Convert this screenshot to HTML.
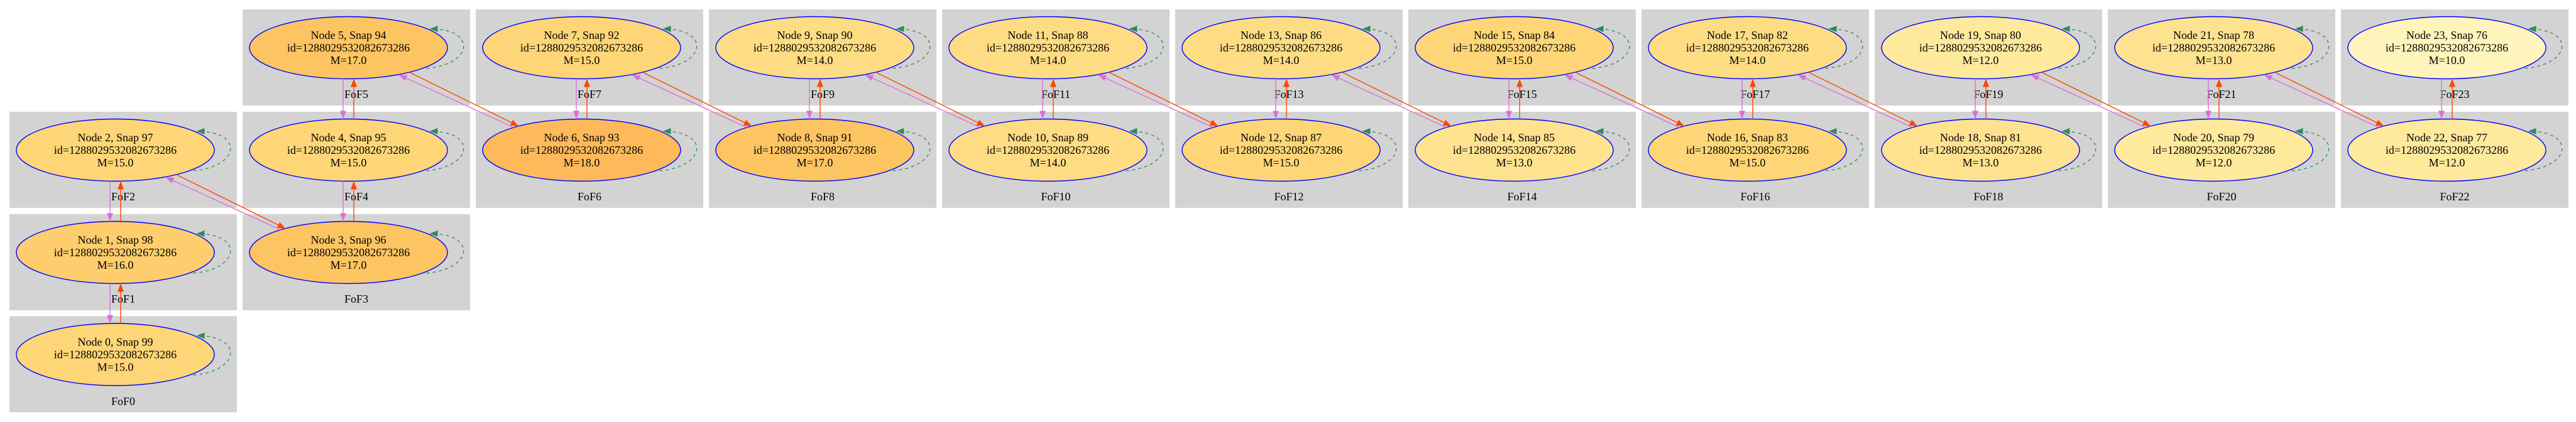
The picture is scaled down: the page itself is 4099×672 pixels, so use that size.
<!DOCTYPE html>
<html><head><meta charset="utf-8"><style>
html,body{margin:0;padding:0;background:#fff;}
svg{display:block;}
text{font-family:"Liberation Serif",serif;font-size:18px;fill:#000;text-anchor:middle;}
.c{fill:#d3d3d3;}
.n ellipse{stroke:#0000ff;stroke-width:1.4;}
.lp{fill:none;stroke:#2e8b57;stroke-width:1.3;stroke-dasharray:5,5;marker-end:url(#ag);}
.p{stroke:#da70d6;stroke-width:1.4;fill:none;marker-end:url(#ap);}
.o{stroke:#ff4500;stroke-width:1.4;fill:none;marker-end:url(#ao);}
</style></head><body>
<svg width="4099" height="672" viewBox="0 0 4099 672" xmlns="http://www.w3.org/2000/svg">
<defs>
<marker id="ag" viewBox="0 0 13 10" refX="12" refY="5" markerWidth="13" markerHeight="10" markerUnits="userSpaceOnUse" orient="auto"><path d="M0,0L13,5L0,10z" fill="#2e8b57"/></marker>
<marker id="ap" viewBox="0 0 13 10" refX="13" refY="5" markerWidth="13" markerHeight="10" markerUnits="userSpaceOnUse" orient="auto"><path d="M0,0L13,5L0,10z" fill="#da70d6"/></marker>
<marker id="ao" viewBox="0 0 13 10" refX="13" refY="5" markerWidth="13" markerHeight="10" markerUnits="userSpaceOnUse" orient="auto"><path d="M0,0L13,5L0,10z" fill="#ff4500"/></marker>
</defs>

<!-- clusters -->
<g>
<rect class="c" x="15" y="178" width="362" height="153"/><text x="196" y="319">FoF2</text>
<rect class="c" x="15" y="341" width="362" height="153"/><text x="196" y="482">FoF1</text>
<rect class="c" x="15" y="503.5" width="362" height="153"/><text x="196" y="645">FoF0</text>
<rect class="c" x="386" y="15" width="362" height="153"/><text x="567" y="156">FoF5</text>
<rect class="c" x="386" y="178" width="362" height="153"/><text x="567" y="319">FoF4</text>
<rect class="c" x="386" y="341" width="362" height="153"/><text x="567" y="482">FoF3</text>
<rect class="c" x="757" y="15" width="362" height="153"/><text x="938" y="156">FoF7</text>
<rect class="c" x="757" y="178" width="362" height="153"/><text x="938" y="319">FoF6</text>
<rect class="c" x="1128" y="15" width="362" height="153"/><text x="1309" y="156">FoF9</text>
<rect class="c" x="1128" y="178" width="362" height="153"/><text x="1309" y="319">FoF8</text>
<rect class="c" x="1499" y="15" width="362" height="153"/><text x="1680" y="156">FoF11</text>
<rect class="c" x="1499" y="178" width="362" height="153"/><text x="1680" y="319">FoF10</text>
<rect class="c" x="1870" y="15" width="362" height="153"/><text x="2051" y="156">FoF13</text>
<rect class="c" x="1870" y="178" width="362" height="153"/><text x="2051" y="319">FoF12</text>
<rect class="c" x="2241" y="15" width="362" height="153"/><text x="2422" y="156">FoF15</text>
<rect class="c" x="2241" y="178" width="362" height="153"/><text x="2422" y="319">FoF14</text>
<rect class="c" x="2612" y="15" width="362" height="153"/><text x="2793" y="156">FoF17</text>
<rect class="c" x="2612" y="178" width="362" height="153"/><text x="2793" y="319">FoF16</text>
<rect class="c" x="2983" y="15" width="362" height="153"/><text x="3164" y="156">FoF19</text>
<rect class="c" x="2983" y="178" width="362" height="153"/><text x="3164" y="319">FoF18</text>
<rect class="c" x="3354" y="15" width="362" height="153"/><text x="3535" y="156">FoF21</text>
<rect class="c" x="3354" y="178" width="362" height="153"/><text x="3535" y="319">FoF20</text>
<rect class="c" x="3725" y="15" width="362" height="153"/><text x="3906" y="156">FoF23</text>
<rect class="c" x="3725" y="178" width="362" height="153"/><text x="3906" y="319">FoF22</text>
</g>

<!-- nodes -->
<g class="n" transform="translate(183.5,239)"><ellipse rx="157.5" ry="49.5" fill="#fed677"/><path class="lp" d="M124,33 C200,26 204,-30 130,-30"/><text y="-14">Node 2, Snap 97</text><text y="6">id=1288029532082673286</text><text y="26">M=15.0</text></g>
<g class="n" transform="translate(183.5,402)"><ellipse rx="157.5" ry="49.5" fill="#fdcd6e"/><path class="lp" d="M124,33 C200,26 204,-30 130,-30"/><text y="-14">Node 1, Snap 98</text><text y="6">id=1288029532082673286</text><text y="26">M=16.0</text></g>
<g class="n" transform="translate(183.5,564.5)"><ellipse rx="157.5" ry="49.5" fill="#fed677"/><path class="lp" d="M124,33 C200,26 204,-30 130,-30"/><text y="-14">Node 0, Snap 99</text><text y="6">id=1288029532082673286</text><text y="26">M=15.0</text></g>
<g class="n" transform="translate(554.5,76)"><ellipse rx="157.5" ry="49.5" fill="#fdc462"/><path class="lp" d="M124,33 C200,26 204,-30 130,-30"/><text y="-14">Node 5, Snap 94</text><text y="6">id=1288029532082673286</text><text y="26">M=17.0</text></g>
<g class="n" transform="translate(554.5,239)"><ellipse rx="157.5" ry="49.5" fill="#fed677"/><path class="lp" d="M124,33 C200,26 204,-30 130,-30"/><text y="-14">Node 4, Snap 95</text><text y="6">id=1288029532082673286</text><text y="26">M=15.0</text></g>
<g class="n" transform="translate(554.5,402)"><ellipse rx="157.5" ry="49.5" fill="#fdc462"/><path class="lp" d="M124,33 C200,26 204,-30 130,-30"/><text y="-14">Node 3, Snap 96</text><text y="6">id=1288029532082673286</text><text y="26">M=17.0</text></g>
<g class="n" transform="translate(925.5,76)"><ellipse rx="157.5" ry="49.5" fill="#fed677"/><path class="lp" d="M124,33 C200,26 204,-30 130,-30"/><text y="-14">Node 7, Snap 92</text><text y="6">id=1288029532082673286</text><text y="26">M=15.0</text></g>
<g class="n" transform="translate(925.5,239)"><ellipse rx="157.5" ry="49.5" fill="#fdb95a"/><path class="lp" d="M124,33 C200,26 204,-30 130,-30"/><text y="-14">Node 6, Snap 93</text><text y="6">id=1288029532082673286</text><text y="26">M=18.0</text></g>
<g class="n" transform="translate(1296.5,76)"><ellipse rx="157.5" ry="49.5" fill="#fedc84"/><path class="lp" d="M124,33 C200,26 204,-30 130,-30"/><text y="-14">Node 9, Snap 90</text><text y="6">id=1288029532082673286</text><text y="26">M=14.0</text></g>
<g class="n" transform="translate(1296.5,239)"><ellipse rx="157.5" ry="49.5" fill="#fdc462"/><path class="lp" d="M124,33 C200,26 204,-30 130,-30"/><text y="-14">Node 8, Snap 91</text><text y="6">id=1288029532082673286</text><text y="26">M=17.0</text></g>
<g class="n" transform="translate(1667.5,76)"><ellipse rx="157.5" ry="49.5" fill="#fedc84"/><path class="lp" d="M124,33 C200,26 204,-30 130,-30"/><text y="-14">Node 11, Snap 88</text><text y="6">id=1288029532082673286</text><text y="26">M=14.0</text></g>
<g class="n" transform="translate(1667.5,239)"><ellipse rx="157.5" ry="49.5" fill="#fedc84"/><path class="lp" d="M124,33 C200,26 204,-30 130,-30"/><text y="-14">Node 10, Snap 89</text><text y="6">id=1288029532082673286</text><text y="26">M=14.0</text></g>
<g class="n" transform="translate(2038.5,76)"><ellipse rx="157.5" ry="49.5" fill="#fedc84"/><path class="lp" d="M124,33 C200,26 204,-30 130,-30"/><text y="-14">Node 13, Snap 86</text><text y="6">id=1288029532082673286</text><text y="26">M=14.0</text></g>
<g class="n" transform="translate(2038.5,239)"><ellipse rx="157.5" ry="49.5" fill="#fed677"/><path class="lp" d="M124,33 C200,26 204,-30 130,-30"/><text y="-14">Node 12, Snap 87</text><text y="6">id=1288029532082673286</text><text y="26">M=15.0</text></g>
<g class="n" transform="translate(2409.5,76)"><ellipse rx="157.5" ry="49.5" fill="#fed677"/><path class="lp" d="M124,33 C200,26 204,-30 130,-30"/><text y="-14">Node 15, Snap 84</text><text y="6">id=1288029532082673286</text><text y="26">M=15.0</text></g>
<g class="n" transform="translate(2409.5,239)"><ellipse rx="157.5" ry="49.5" fill="#fee290"/><path class="lp" d="M124,33 C200,26 204,-30 130,-30"/><text y="-14">Node 14, Snap 85</text><text y="6">id=1288029532082673286</text><text y="26">M=13.0</text></g>
<g class="n" transform="translate(2780.5,76)"><ellipse rx="157.5" ry="49.5" fill="#fedc84"/><path class="lp" d="M124,33 C200,26 204,-30 130,-30"/><text y="-14">Node 17, Snap 82</text><text y="6">id=1288029532082673286</text><text y="26">M=14.0</text></g>
<g class="n" transform="translate(2780.5,239)"><ellipse rx="157.5" ry="49.5" fill="#fed677"/><path class="lp" d="M124,33 C200,26 204,-30 130,-30"/><text y="-14">Node 16, Snap 83</text><text y="6">id=1288029532082673286</text><text y="26">M=15.0</text></g>
<g class="n" transform="translate(3151.5,76)"><ellipse rx="157.5" ry="49.5" fill="#fee99d"/><path class="lp" d="M124,33 C200,26 204,-30 130,-30"/><text y="-14">Node 19, Snap 80</text><text y="6">id=1288029532082673286</text><text y="26">M=12.0</text></g>
<g class="n" transform="translate(3151.5,239)"><ellipse rx="157.5" ry="49.5" fill="#fee290"/><path class="lp" d="M124,33 C200,26 204,-30 130,-30"/><text y="-14">Node 18, Snap 81</text><text y="6">id=1288029532082673286</text><text y="26">M=13.0</text></g>
<g class="n" transform="translate(3522.5,76)"><ellipse rx="157.5" ry="49.5" fill="#fee290"/><path class="lp" d="M124,33 C200,26 204,-30 130,-30"/><text y="-14">Node 21, Snap 78</text><text y="6">id=1288029532082673286</text><text y="26">M=13.0</text></g>
<g class="n" transform="translate(3522.5,239)"><ellipse rx="157.5" ry="49.5" fill="#fee99d"/><path class="lp" d="M124,33 C200,26 204,-30 130,-30"/><text y="-14">Node 20, Snap 79</text><text y="6">id=1288029532082673286</text><text y="26">M=12.0</text></g>
<g class="n" transform="translate(3893.5,76)"><ellipse rx="157.5" ry="49.5" fill="#fff5bc"/><path class="lp" d="M124,33 C200,26 204,-30 130,-30"/><text y="-14">Node 23, Snap 76</text><text y="6">id=1288029532082673286</text><text y="26">M=10.0</text></g>
<g class="n" transform="translate(3893.5,239)"><ellipse rx="157.5" ry="49.5" fill="#fee99d"/><path class="lp" d="M124,33 C200,26 204,-30 130,-30"/><text y="-14">Node 22, Snap 77</text><text y="6">id=1288029532082673286</text><text y="26">M=12.0</text></g>

<!-- vertical edges within columns -->
<g transform="translate(183.5,239)"><path class="p" d="M-8.5,49.5L-8.5,113.5"/><path class="o" d="M8.5,113.5L8.5,49.5"/></g>
<g transform="translate(183.5,402)"><path class="p" d="M-8.5,49.5L-8.5,113"/><path class="o" d="M8.5,113L8.5,49.5"/></g>
<g transform="translate(554.5,76)"><path class="p" d="M-8.5,49.5L-8.5,113.5"/><path class="o" d="M8.5,113.5L8.5,49.5"/></g>
<g transform="translate(554.5,239)"><path class="p" d="M-8.5,49.5L-8.5,113.5"/><path class="o" d="M8.5,113.5L8.5,49.5"/></g>
<g transform="translate(925.5,76)"><path class="p" d="M-8.5,49.5L-8.5,113.5"/><path class="o" d="M8.5,113.5L8.5,49.5"/></g>
<g transform="translate(1296.5,76)"><path class="p" d="M-8.5,49.5L-8.5,113.5"/><path class="o" d="M8.5,113.5L8.5,49.5"/></g>
<g transform="translate(1667.5,76)"><path class="p" d="M-8.5,49.5L-8.5,113.5"/><path class="o" d="M8.5,113.5L8.5,49.5"/></g>
<g transform="translate(2038.5,76)"><path class="p" d="M-8.5,49.5L-8.5,113.5"/><path class="o" d="M8.5,113.5L8.5,49.5"/></g>
<g transform="translate(2409.5,76)"><path class="p" d="M-8.5,49.5L-8.5,113.5"/><path class="o" d="M8.5,113.5L8.5,49.5"/></g>
<g transform="translate(2780.5,76)"><path class="p" d="M-8.5,49.5L-8.5,113.5"/><path class="o" d="M8.5,113.5L8.5,49.5"/></g>
<g transform="translate(3151.5,76)"><path class="p" d="M-8.5,49.5L-8.5,113.5"/><path class="o" d="M8.5,113.5L8.5,49.5"/></g>
<g transform="translate(3522.5,76)"><path class="p" d="M-8.5,49.5L-8.5,113.5"/><path class="o" d="M8.5,113.5L8.5,49.5"/></g>
<g transform="translate(3893.5,76)"><path class="p" d="M-8.5,49.5L-8.5,113.5"/><path class="o" d="M8.5,113.5L8.5,49.5"/></g>

<!-- cross-column edges -->
<g transform="translate(183.5,239)"><path class="o" d="M97,39L271,125"/><path class="p" d="M263,127L80,43"/></g>
<g transform="translate(554.5,76)"><path class="o" d="M97,39L271,125"/><path class="p" d="M263,127L80,43"/></g>
<g transform="translate(925.5,76)"><path class="o" d="M97,39L271,125"/><path class="p" d="M263,127L80,43"/></g>
<g transform="translate(1296.5,76)"><path class="o" d="M97,39L271,125"/><path class="p" d="M263,127L80,43"/></g>
<g transform="translate(1667.5,76)"><path class="o" d="M97,39L271,125"/><path class="p" d="M263,127L80,43"/></g>
<g transform="translate(2038.5,76)"><path class="o" d="M97,39L271,125"/><path class="p" d="M263,127L80,43"/></g>
<g transform="translate(2409.5,76)"><path class="o" d="M97,39L271,125"/><path class="p" d="M263,127L80,43"/></g>
<g transform="translate(2780.5,76)"><path class="o" d="M97,39L271,125"/><path class="p" d="M263,127L80,43"/></g>
<g transform="translate(3151.5,76)"><path class="o" d="M97,39L271,125"/><path class="p" d="M263,127L80,43"/></g>
<g transform="translate(3522.5,76)"><path class="o" d="M97,39L271,125"/><path class="p" d="M263,127L80,43"/></g>
</svg>
</body></html>
